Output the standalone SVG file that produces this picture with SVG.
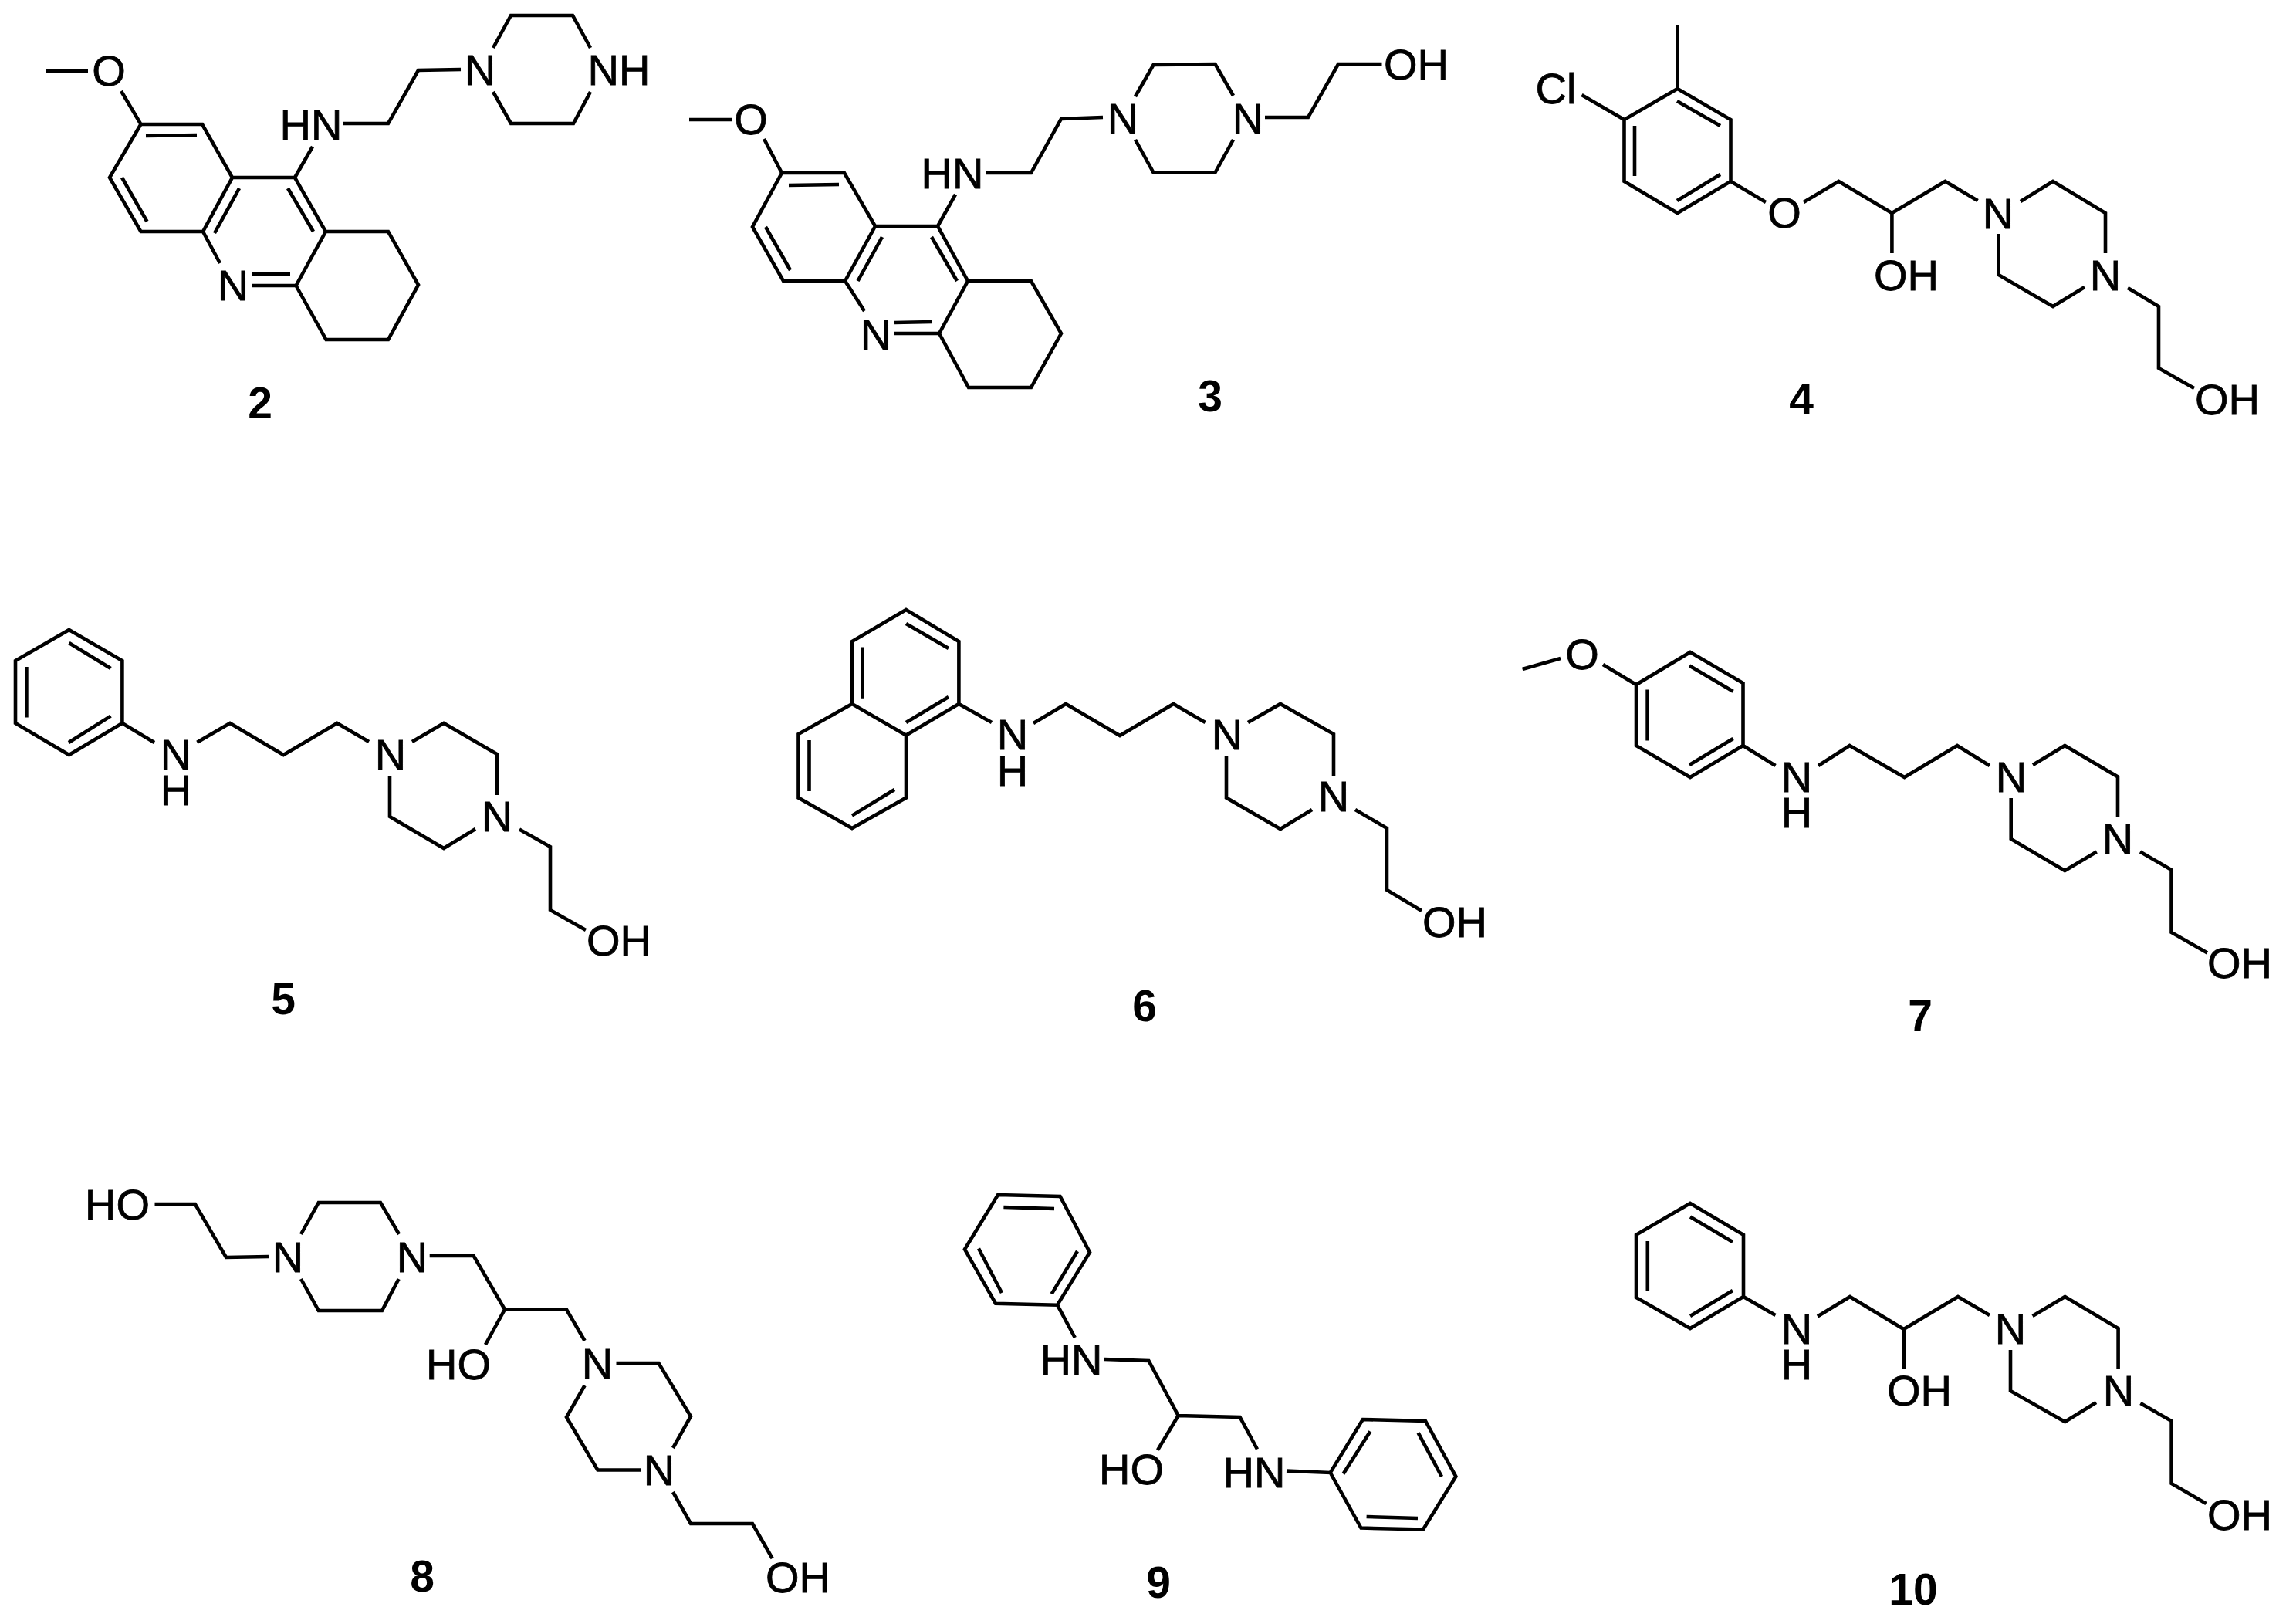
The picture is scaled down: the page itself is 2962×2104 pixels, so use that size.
<svg xmlns="http://www.w3.org/2000/svg" width="2962" height="2104" viewBox="0 0 2962 2104">
<style>
.b{fill:none;stroke:#000;stroke-width:4.6;stroke-linejoin:miter;stroke-linecap:butt}
.a{font-family:"Liberation Sans",Arial,sans-serif;font-size:56px;fill:#000;stroke:#000;stroke-width:.8;text-anchor:middle}
.l{font-family:"Liberation Sans",Arial,sans-serif;font-size:57px;font-weight:bold;fill:#000;text-anchor:middle}
</style>
<rect width="2962" height="2104" fill="#fff"/>
<g id="compound-2">
<path class="b" d="M60 92H114M157 118L182.500 161H262L301 230L263 300H182.500L142 230L182.500 161M189 176L255 175M158 230L190.500 287M310 244L278 302M301 230H382L422 300L383.500 370H326M326 355L376 355M373 244L406 300M263 300L285 341M422 300H503L542 369L503 440H422.500L383.500 370M382 230L405 190M445 160H503L542 91L597 90M639 62L662 20H742L765 62M639 119L662 160H743L765 119"/>
<text class="a" x="141" y="111">O</text><text class="a" x="403" y="181">HN</text><text class="a" x="302" y="389">N</text><text class="a" x="622" y="110">N</text><text class="a" x="802" y="110">NH</text>
<text class="l" x="337" y="542">2</text>
</g>
<g id="compound-3">
<path class="b" d="M893 155H948M990 180L1013 224H1094L1134 293L1095 364H1015L975 294L1013 224M1022 240L1087 239M992 294L1024 350M1143 307L1111.500 364M1134 293H1215L1254 364L1217 432H1159M1159 418L1208 417M1207 307L1240 364M1095 364L1120 403M1254 364H1336L1375 432L1336 502H1255L1217 432M1215 293L1238 252M1278 224H1336L1375 154L1429 152M1471 125L1494.500 84L1574.500 83L1598 124M1471 181L1494.500 223.500H1574.500L1598 181M1639 152H1695L1734 83H1790.500"/>
<text class="a" x="973" y="174">O</text><text class="a" x="1234" y="244">HN</text><text class="a" x="1135" y="453">N</text><text class="a" x="1455" y="173">N</text><text class="a" x="1617" y="173">N</text><text class="a" x="1835" y="103">OH</text>
<text class="l" x="1568" y="533">3</text>
</g>
<g id="compound-4">
<path class="b" d="M2173.500 33V115L2242.500 155V235L2173.500 276L2104.500 235V155L2173.500 115M2173 131L2229 163M2118 163V228M2173 260L2229 226M2049.500 123L2104.500 155M2242.500 235L2288 262M2337 262L2382.400 235L2451.400 276L2520.400 235L2562.600 260M2451.400 276V328M2618 261L2660 235L2728 276V328M2589.500 303V356L2660 397L2701 372M2757 373L2797 397V477L2843 503"/>
<text class="a" x="2016" y="134">Cl</text><text class="a" x="2312" y="295">O</text><text class="a" x="2470" y="376">OH</text><text class="a" x="2589" y="296">N</text><text class="a" x="2728" y="376">N</text><text class="a" x="2886" y="537">OH</text>
<text class="l" x="2334" y="537">4</text>
</g>
<g id="compound-5">
<path class="b" d="M89.500 816L158.400 856V937L89.500 978L20 937V856ZM89.500 833L143.500 866M34.400 864V929.500M89 962L143.500 927.600M158.400 937L200 962M255.400 961.700L298 937L367.300 978L436.800 937L478 961M534 961L575 937L644 977V1030M505 1005V1058L575 1099L616 1074M673 1074.600L713 1097V1179L759 1205"/>
<text class="a"><tspan x="228" y="997">N</tspan><tspan x="228" y="1043">H</tspan></text><text class="a" x="506" y="997">N</text><text class="a" x="644" y="1077">N</text><text class="a" x="802" y="1238">OH</text>
<text class="l" x="367" y="1314">5</text>
</g>
<g id="compound-6">
<path class="b" d="M1174 790L1242.400 831V912L1174 952.500L1104 912V831ZM1174 808L1229 840M1117.500 838.500V904.700M1174 936L1229 903M1174 952.500V1033.600L1104 1073L1034.500 1033.600V951L1104 912M1104 1056.600L1159 1023M1048.500 959V1025M1242.400 912L1285 936M1339 937L1381 912L1451 953L1520.500 912L1561.700 936M1617 936L1659 912L1728 951V1006M1589 979V1033.600L1659 1074L1700 1049M1756 1049L1797 1073V1153L1842 1180"/>
<text class="a"><tspan x="1312" y="971">N</tspan><tspan x="1312" y="1018">H</tspan></text><text class="a" x="1590" y="971">N</text><text class="a" x="1728" y="1051">N</text><text class="a" x="1885" y="1214">OH</text>
<text class="l" x="1483" y="1323">6</text>
</g>
<g id="compound-7">
<path class="b" d="M1972.600 867L2022 853M2077 861L2120 887L2190 845L2258.500 885V966L2190 1007L2120 966V887M2189 862.500L2245.600 895.700M2134.600 893.600V959.600M2189 991L2245.600 957M2258.500 966L2300.500 992M2356 992L2396.600 966L2467.600 1007L2536 966L2578 992M2634 991L2675.400 966L2744 1006.400V1059M2605.700 1034V1087L2675.400 1128L2716.700 1103.500M2773 1103.500L2813.500 1127V1208L2860 1234.600"/>
<text class="a" x="2050" y="867">O</text><text class="a"><tspan x="2328" y="1026">N</tspan><tspan x="2328" y="1072">H</tspan></text><text class="a" x="2606" y="1026">N</text><text class="a" x="2744" y="1106">N</text><text class="a" x="2902" y="1267">OH</text>
<text class="l" x="2488" y="1336">7</text>
</g>
<g id="compound-8">
<path class="b" d="M200.500 1560H252.800L293 1629L348 1628M390 1599L412.800 1558H493L517 1599M390 1657L412.800 1698H495L516.600 1657M556.700 1627H613.700L654 1696.500H734L757.600 1737M654 1696.500L629 1742M798.500 1766H853.400L895 1835L872 1876M757.600 1795L734 1836L774.400 1904.500H831M872 1933L895 1974H975L1000.700 2019"/>
<text class="a" x="152" y="1580">HO</text><text class="a" x="373" y="1648">N</text><text class="a" x="534" y="1648">N</text><text class="a" x="594" y="1787">HO</text><text class="a" x="774" y="1786">N</text><text class="a" x="854" y="1924">N</text><text class="a" x="1034" y="2063">OH</text>
<text class="l" x="547" y="2062">8</text>
</g>
<g id="compound-9">
<path class="b" d="M1293 1548L1373.600 1550L1412 1622.500L1370 1690.700L1290 1688.700L1250 1618.600ZM1300.400 1564L1366 1566M1396 1621L1362.600 1676.400M1268 1617.500L1298 1675M1370 1690.700L1392.800 1733M1431 1761L1488.400 1763L1526.700 1834L1606.600 1836L1629 1877.500M1526.700 1834L1500 1878.600M1667 1905.600L1723.700 1908L1765.800 1839L1847 1841L1886.400 1913L1844 1981.500L1763.500 1979.600L1723.700 1908M1775.400 1854.400L1740.500 1909.500M1837.600 1856.300L1868 1913M1770.600 1965L1837 1967"/>
<text class="a" x="1388" y="1781">HN</text><text class="a" x="1466" y="1923">HO</text><text class="a" x="1625" y="1927">HN</text>
<text class="l" x="1501" y="2070">9</text>
</g>
<g id="compound-10">
<path class="b" d="M2190 1559L2259 1599.700V1680L2190 1721L2120 1681V1599.700ZM2190 1576.600L2245 1609M2134.800 1608V1672.700M2190 1705L2245 1672M2259 1680L2300.500 1704M2355 1705.500L2397 1680L2466.700 1722L2537 1680L2578 1704M2466.700 1722V1774M2633.600 1705L2675.600 1680L2744.600 1721V1774M2605 1749V1802L2675.600 1842L2716 1817M2773.400 1818L2813.600 1841V1922L2858.500 1948"/>
<text class="a"><tspan x="2328" y="1741">N</tspan><tspan x="2328" y="1787">H</tspan></text><text class="a" x="2487" y="1821">OH</text><text class="a" x="2605" y="1741">N</text><text class="a" x="2745" y="1821">N</text><text class="a" x="2902" y="1982">OH</text>
<text class="l" x="2479" y="2079">10</text>
</g>
</svg>
